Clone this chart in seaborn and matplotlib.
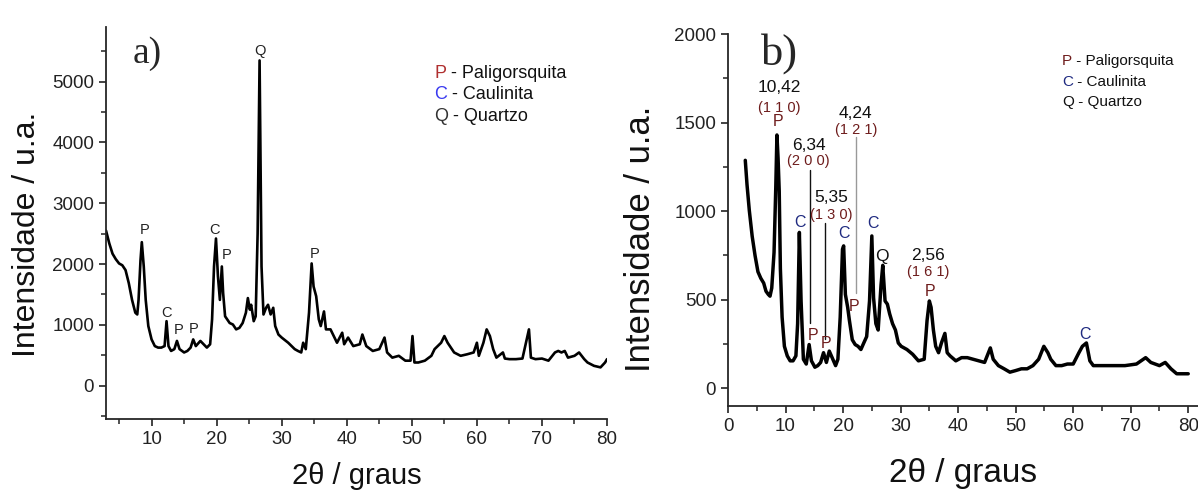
import numpy as np
import pandas as pd
import matplotlib
matplotlib.use("Agg")
import matplotlib.pyplot as plt
import seaborn as sns
from matplotlib.ticker import MultipleLocator

# ---------------- data ----------------
two_theta_a = [3.0, 3.5, 4.0, 4.5, 5.0, 5.5, 6.0, 6.5, 7.0, 7.5, 7.8, 8.0, 8.3, 8.5, 8.8, 9.1, 9.5,
               10.0, 10.5, 11.0, 11.5, 12.0, 12.3, 12.6, 13.0, 13.5, 13.9, 14.3, 15.0, 15.5, 16.0,
               16.4, 16.8, 17.5, 18.0, 18.5, 19.0, 19.3, 19.6, 19.9, 20.2, 20.5, 20.8, 21.0, 21.3,
               22.0, 22.5, 23.0, 23.5, 24.0, 24.5, 24.8, 25.1, 25.3, 25.7, 26.0, 26.3, 26.6, 26.9,
               27.2, 27.6, 27.9, 28.3, 28.7, 29.0, 29.5, 30.0, 31.0, 32.0, 32.5, 33.0, 33.3, 33.7,
               34.2, 34.6, 34.9, 35.3, 35.7, 36.0, 36.5, 36.8, 37.5, 38.0, 38.5, 39.3, 39.6, 40.2,
               41.0, 42.0, 42.4, 43.0, 44.0, 45.0, 45.8, 46.2, 47.0, 48.0, 49.0, 49.8, 50.1, 50.4,
               51.0, 52.0, 53.0, 53.5, 54.5, 55.0, 55.5, 56.5, 57.5, 58.5, 59.5, 60.0, 60.3, 61.0,
               61.5, 62.0, 62.5, 63.0, 64.0, 64.3, 65.0, 66.0, 67.0, 68.0, 68.3, 69.0, 70.0, 71.0,
               72.0, 72.5, 73.0, 73.5, 74.0, 75.0, 75.7, 76.5, 77.0, 78.0, 79.0, 79.7, 80.0]
intensity_a = [2550, 2340, 2170, 2080, 2010, 1980, 1900, 1685, 1410, 1200, 1170, 1410, 2065, 2360, 1960, 1410, 980,
               760, 650, 625, 625, 650, 1060, 650, 570, 600, 735, 600, 545, 570, 625,
               760, 650, 735, 680, 625, 680, 1090, 1960, 2420, 1800, 1410, 1960, 1520, 1140,
               1030, 1005, 925, 950, 1030, 1200, 1440, 1250, 1330, 1060, 1140, 2500, 5350, 1960,
               1170, 1280, 1330, 1170, 1280, 980, 840, 790, 705, 600, 570, 545, 705, 600,
               1200, 2010, 1630, 1470, 1090, 980, 1220, 925, 925, 815, 705, 870, 680, 790,
               650, 680, 840, 650, 570, 600, 790, 545, 460, 490, 410, 410, 815, 380,
               380, 410, 490, 600, 705, 815, 705, 545, 490, 515, 545, 705, 490, 705,
               925, 815, 600, 460, 545, 445, 435, 435, 445, 925, 460, 435, 445, 410,
               545, 570, 545, 570, 460, 490, 545, 435, 380, 325, 300, 380, 435]

two_theta_b = [3.0, 3.3, 3.7, 4.2, 4.7, 5.2, 5.7, 6.2, 6.6, 7.0, 7.3, 7.6, 8.0, 8.3, 8.5, 8.7, 8.9,
               9.1, 9.4, 9.8, 10.3, 10.8, 11.3, 11.8, 12.1, 12.4, 12.7, 13.1, 13.6, 14.1, 14.5,
               15.1, 15.6, 16.1, 16.6, 17.1, 17.6, 18.1, 18.7, 19.1, 19.5, 19.9, 20.1, 20.4, 20.8,
               21.1, 21.6, 22.1, 22.6, 23.1, 23.6, 24.1, 24.6, 25.0, 25.3, 25.7, 26.1, 26.6, 26.9,
               27.3, 27.7, 28.1, 28.6, 29.1, 29.6, 30.1, 31.1, 32.1, 33.1, 34.1, 34.6, 35.0, 35.3,
               35.7, 36.1, 36.6, 37.1, 37.7, 38.1, 38.6, 39.6, 40.6, 41.6, 42.6, 43.6, 44.6, 45.6,
               46.1, 47.0, 48.0, 49.0, 50.0, 51.0, 52.0, 53.0, 54.0, 54.9, 55.6, 56.1, 57.0, 58.0,
               59.0, 60.0, 61.0, 61.6, 62.3, 62.9, 63.5, 65.0, 67.0, 69.0, 71.0, 72.6, 73.5, 75.0,
               76.0, 77.0, 78.0, 79.0, 80.0]
intensity_b = [1287, 1150, 1004, 858, 749, 658, 621, 594, 548, 530, 520, 566, 767, 1132, 1430, 1300, 1114,
               676, 402, 237, 183, 155, 155, 183, 365, 880, 493, 164, 137, 247, 155,
               119, 128, 146, 201, 146, 210, 173, 128, 164, 402, 785, 804, 530, 457,
               383, 274, 247, 237, 219, 256, 292, 493, 860, 511, 365, 329, 584, 694,
               493, 475, 420, 365, 329, 256, 237, 219, 192, 155, 164, 383, 493, 457,
               329, 237, 201, 256, 310, 201, 183, 155, 173, 173, 164, 155, 146, 228,
               164, 128, 110, 91, 100, 110, 110, 128, 164, 237, 201, 164, 128, 128,
               137, 137, 201, 237, 256, 155, 128, 128, 128, 128, 137, 173, 146, 128,
               146, 110, 82, 82, 82]

# phase labels
labels_a = ["P", "C", "P", "P", "C", "P", "Q", "P"]
labels_a_x = [8.9, 12.3, 14.1, 16.4, 19.7, 21.6, 26.6, 35.1]
labels_a_y = [2554, 1196, 913, 924, 2554, 2147, 5500, 2163]

labels_b = ["P", "C", "P", "P", "C", "P", "C", "Q", "P", "C"]
labels_b_x = [8.7, 12.5, 14.8, 17.1, 20.1, 21.9, 25.2, 26.8, 35.2, 62.0]
labels_b_y = [1506, 937, 299, 254, 873, 460, 933, 742, 544, 305]

d_spacing = ["10,42", "6,34", "5,35", "4,24", "2,56"]
hkl = ["(1 1 0)", "(2 0 0)", "(1 3 0)", "(1 2 1)", "(1 6 1)"]
d_x = [8.9, 14.0, 17.9, 22.2, 34.8]
d_y = [1700, 1369, 1076, 1553, 749]
hkl_y = [1581, 1286, 980, 1459, 657]
lead_x = [14.2, 16.9, 22.2]
lead_top = [1234, 933, 1421]
lead_bottom = [370, 276, 539]

legend_letters = ["P", "C", "Q"]
legend_names = [" - Paligorsquita", " - Caulinita", " - Quartzo"]

# ---------------- styling ----------------
sns.set_theme(style="ticks")
plt.rcParams["font.family"] = ["Liberation Sans", "DejaVu Sans"]
plt.rcParams["axes.linewidth"] = 1.3

P_A, C_A, Q_A = "#b03030", "#3a3af0", "#333333"
P_B, C_B, Q_B = "#6e1c1c", "#1f2a80", "#111111"

fig = plt.figure(figsize=(11.98, 4.91), dpi=100)
ax_a = fig.add_axes([0.0885, 0.1466, 0.4182, 0.7984])
ax_b = fig.add_axes([0.6077, 0.1731, 0.3923, 0.7576])

df_a = pd.DataFrame({"tt": two_theta_a, "I": intensity_a})
df_b = pd.DataFrame({"tt": two_theta_b, "I": intensity_b})
sns.lineplot(data=df_a, x="tt", y="I", ax=ax_a, color="black", lw=1.9, sort=False, estimator=None)
sns.lineplot(data=df_b, x="tt", y="I", ax=ax_b, color="black", lw=2.5, sort=False, estimator=None)

for ax in (ax_a, ax_b):
    sns.despine(ax=ax)
    ax.tick_params(which="major", direction="out", length=5, width=1.2, colors="#222222")
    ax.tick_params(which="minor", direction="out", length=3.5, width=1.1, colors="#222222")

# panel a axes
ax_a.set_xlim(3, 80)
ax_a.set_ylim(-550, 5900)
ax_a.xaxis.set_major_locator(MultipleLocator(10))
ax_a.xaxis.set_minor_locator(MultipleLocator(5))
ax_a.yaxis.set_major_locator(MultipleLocator(1000))
ax_a.yaxis.set_minor_locator(MultipleLocator(500))
ax_a.set_xticks([10, 20, 30, 40, 50, 60, 70, 80])
ax_a.set_yticks([0, 1000, 2000, 3000, 4000, 5000])
ax_a.tick_params(labelsize=13.5, labelcolor="#222222")
ax_a.set_xlabel("2θ / graus", fontsize=21, color="#111111")
ax_a.set_ylabel("Intensidade / u.a.", fontsize=23, color="#111111")
ax_a.xaxis.set_label_coords(0.5, -0.11)
ax_a.yaxis.set_label_coords(-0.127, 0.47)

# panel b axes
ax_b.set_xlim(0, 81.7)
ax_b.set_ylim(-100, 2000)
ax_b.xaxis.set_major_locator(MultipleLocator(10))
ax_b.xaxis.set_minor_locator(MultipleLocator(5))
ax_b.yaxis.set_major_locator(MultipleLocator(500))
ax_b.yaxis.set_minor_locator(MultipleLocator(250))
ax_b.set_xticks([0, 10, 20, 30, 40, 50, 60, 70, 80])
ax_b.tick_params(labelsize=13.5, labelcolor="#222222")
ax_b.set_xlabel("2θ / graus", fontsize=24, color="#111111")
ax_b.set_ylabel("Intensidade / u.a.", fontsize=25, color="#111111")
ax_b.xaxis.set_label_coords(0.5, -0.14)
ax_b.yaxis.set_label_coords(-0.152, 0.45)

# panel letters
ax_a.text(9.4, 5462, "a)", fontsize=27, family="Liberation Serif", ha="center", va="center")
ax_b.text(8.9, 1890, "b)", fontsize=32, family="Liberation Serif", ha="center", va="center")

# phase labels on panel a
for t, x, y in zip(labels_a, labels_a_x, labels_a_y):
    ax_a.text(x, y, t, fontsize=10.5, ha="center", va="center", color="#222222")

# phase labels on panel b
col_b = {"P": P_B, "C": C_B, "Q": Q_B}
for t, x, y in zip(labels_b, labels_b_x, labels_b_y):
    ax_b.text(x, y, t, fontsize=11.5 if t != "Q" else 12.5, ha="center", va="center", color=col_b[t])

for d, h, x, y, yh in zip(d_spacing, hkl, d_x, d_y, hkl_y):
    ax_b.text(x, y, d, fontsize=12.5, ha="center", va="center", color="#111111")
    ax_b.text(x, yh, h, fontsize=10.5, ha="center", va="center", color=P_B)
lead_cols = ["#111111", "#111111", "#999999"]
for x, t, b, c in zip(lead_x, lead_top, lead_bottom, lead_cols):
    ax_b.plot([x, x], [b, t], color=c, lw=1.0)

# legends
def legend(ax, x0, y0, dy, size, cols):
    adv = {"P": 0.667, "C": 0.722, "Q": 0.778}
    for i, (l, n) in enumerate(zip(legend_letters, legend_names)):
        y = y0 - i * dy
        ax.annotate(l, (x0, y), xycoords="axes fraction", fontsize=size, color=cols[i],
                    ha="left", va="center")
        ax.annotate(n, (x0, y), xycoords="axes fraction", xytext=(adv[l] * size, 0),
                    textcoords="offset points", fontsize=size, color="#111111",
                    ha="left", va="center")

legend(ax_a, (434 - 106) / 501, (419 - 73) / 392, 21.5 / 392, 13, [P_A, C_A, Q_A])
legend(ax_b, (1062 - 728) / 470, (406 - 61) / 372, 20.5 / 372, 11, [P_B, C_B, Q_B])

fig.savefig("out.png", dpi=100)
